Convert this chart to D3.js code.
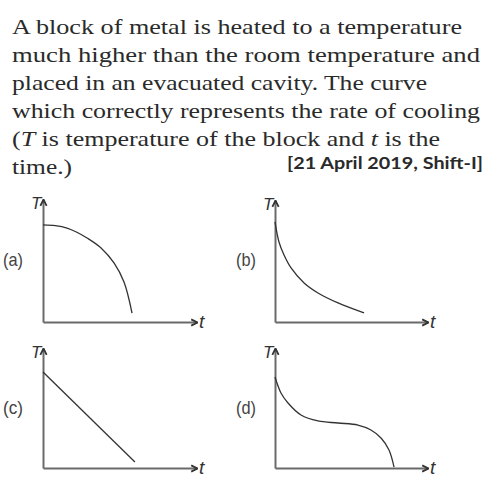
<!DOCTYPE html>
<html><head><meta charset="utf-8">
<script src="https://cdn.jsdelivr.net/npm/d3@7"></script>
<style>body{margin:0;background:#fff}</style>
</head><body>
<script>
// ---- data ----
const questionLines = [
  "A block of metal is heated to a temperature",
  "much higher than the room temperature and",
  "placed in an evacuated cavity. The curve",
  "which correctly represents the rate of cooling",
  null,
  "time.)"
];
const sourceTag = "[21 April 2019, Shift-I]";
const panelLabels = ["(a)", "(b)", "(c)", "(d)"];
const curveA = [[0,78.9],[8,78.3],[15.6,76.4],[22,73],[28.6,68.3],[37.7,60.2],[46.1,48.0],[52.6,32.5],[57.8,7.3]];
const curveB = [[0,82],[2.6,65.6],[5.9,54.9],[10.5,44.3],[19,32],[28.1,23.8],[41.2,15.6],[58.2,7.4]];
const curveC = [[0,80],[59.7,5]];
const curveD = [[0,75.8],[3.9,62.5],[8.5,54.2],[17,44.2],[28.1,39.2],[41.2,37.5],[54.2,35.8],[62.7,31.7],[69.3,25],[74.5,15],[77.8,0.8]];
const curves = [curveA, curveB, curveC, curveD];

// ---- layout ----
const W = 502, H = 487;
const svg = d3.select("body").append("svg").attr("width", W).attr("height", H);
const defs = svg.append("defs");
defs.append("marker").attr("id","arr").attr("viewBox","0 0 10 10")
  .attr("refX",9).attr("refY",5).attr("markerWidth",9).attr("markerHeight",9)
  .attr("markerUnits","userSpaceOnUse").attr("orient","auto")
  .append("path").attr("d","M2,1.5 L9,5 L2,8.5").attr("fill","none").attr("stroke","#333").attr("stroke-width",2);

const lineWidths = [450, 468, 415, 468, null, 60];
const baseY = 34, lh = 28;
const tg = svg.append("g").attr("font-family","'Liberation Serif', serif").attr("font-size",21).attr("fill","#2a2a2a");
questionLines.forEach((l,i)=>{
  if (l === null) return;
  tg.append("text").attr("x",12).attr("y",baseY+i*lh).attr("textLength",lineWidths[i])
    .attr("lengthAdjust","spacingAndGlyphs").text(l);
});
// line 5 with italics
const l5 = tg.append("text").attr("x",12).attr("y",baseY+4*lh).attr("textLength",428).attr("lengthAdjust","spacingAndGlyphs");
l5.append("tspan").text("(");
l5.append("tspan").attr("font-style","italic").text("T");
l5.append("tspan").text("  is temperature of the block and ");
l5.append("tspan").attr("font-style","italic").text("t");
l5.append("tspan").text(" is the");

svg.append("text").attr("x",287).attr("y",169).attr("font-family","Lato, sans-serif")
  .attr("font-weight","bold").attr("font-size",17).attr("fill","#2a2a2a")
  .attr("textLength",196).attr("lengthAdjust","spacingAndGlyphs").text(sourceTag);

// panels: origin, axis lengths
const panels = [
  {ox:43, oy:322, w:154, h:123, lx:3, ly:266},
  {ox:275, oy:322, w:153, h:122, lx:236, ly:266},
  {ox:43, oy:468, w:154, h:120, lx:3, ly:414},
  {ox:275, oy:468, w:153, h:120, lx:236, ly:414}
];

panels.forEach((p,i)=>{
  const x = d3.scaleLinear().domain([0,100]).range([p.ox, p.ox+p.w]);
  const y = d3.scaleLinear().domain([0,100]).range([p.oy, p.oy-p.h]);
  const g = svg.append("g");
  const ax = g.append("g").attr("transform",`translate(0,${p.oy})`)
    .call(d3.axisBottom(x).tickValues([]).tickSizeOuter(0));
  const ay = g.append("g").attr("transform",`translate(${p.ox},0)`)
    .call(d3.axisLeft(y).tickValues([]).tickSizeOuter(0));
  [ax,ay].forEach(a=>a.select(".domain").attr("stroke","#6a6a6a").attr("stroke-width",2)
      .attr("marker-end","url(#arr)"));
  g.append("path").datum(curves[i])
    .attr("d", d3.line().x(d=>x(d[0])).y(d=>y(d[1])).curve(d3.curveCatmullRom))
    .attr("fill","none").attr("stroke","#333").attr("stroke-width",1.3);
  g.append("text").attr("x",p.ox-12).attr("y",p.oy-p.h+10).attr("font-family","'Liberation Sans', sans-serif")
    .attr("font-style","italic").attr("font-size",17).attr("fill","#333").text("T");
  g.append("text").attr("x",p.ox+p.w+2).attr("y",p.oy+6).attr("font-family","'Liberation Sans', sans-serif")
    .attr("font-style","italic").attr("font-size",19).attr("fill","#333").text("t");
  g.append("text").attr("x",p.lx).attr("y",p.ly).attr("font-family","'Liberation Sans', sans-serif")
    .attr("font-size",19).attr("fill","#444").attr("textLength",20).attr("lengthAdjust","spacingAndGlyphs").text(panelLabels[i]);
});
</script>
</body></html>
